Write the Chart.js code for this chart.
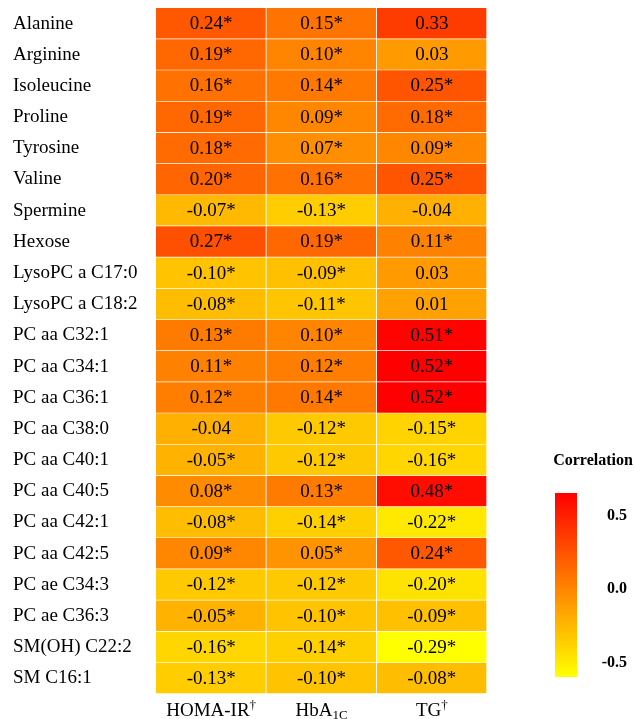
<!DOCTYPE html>
<html>
<head>
<meta charset="utf-8">
<script src="https://cdn.jsdelivr.net/npm/chart.js@4"></script>
<style>
  html, body { margin: 0; padding: 0; background: #fff; }
  #wrap { width: 635px; height: 719px; }
</style>
</head>
<body>
<div id="wrap"><canvas id="heat" width="635" height="719"></canvas></div>
<script>
const metabolites = [
  "Alanine", "Arginine", "Isoleucine", "Proline", "Tyrosine", "Valine",
  "Spermine", "Hexose", "LysoPC a C17:0", "LysoPC a C18:2", "PC aa C32:1",
  "PC aa C34:1", "PC aa C36:1", "PC aa C38:0", "PC aa C40:1", "PC aa C40:5",
  "PC aa C42:1", "PC aa C42:5", "PC ae C34:3", "PC ae C36:3", "SM(OH) C22:2",
  "SM C16:1",
];

const homaIr = [0.24, 0.19, 0.16, 0.19, 0.18, 0.2, -0.07, 0.27, -0.1, -0.08, 0.13,
  0.11, 0.12, -0.04, -0.05, 0.08, -0.08, 0.09, -0.12, -0.05, -0.16, -0.13];
const hba1c = [0.15, 0.1, 0.14, 0.09, 0.07, 0.16, -0.13, 0.19, -0.09, -0.11, 0.1,
  0.12, 0.14, -0.12, -0.12, 0.13, -0.14, 0.05, -0.12, -0.1, -0.14, -0.1];
const tg = [0.33, 0.03, 0.25, 0.18, 0.09, 0.25, -0.04, 0.11, 0.03, 0.01, 0.51,
  0.52, 0.52, -0.15, -0.16, 0.48, -0.22, 0.24, -0.2, -0.09, -0.29, -0.08];

// 1 = marked with * (significant)
const homaSig = [1,1,1,1,1,1,1,1,1,1,1,1,1,0,1,1,1,1,1,1,1,1];
const hbaSig  = [1,1,1,1,1,1,1,1,1,1,1,1,1,1,1,1,1,1,1,1,1,1];
const tgSig   = [0,0,1,1,1,1,0,1,0,0,1,1,1,1,1,1,1,1,1,1,1,1];

// column labels: main text, subscript, superscript
const colMain = ["HOMA-IR", "HbA", "TG"];
const colSub = ["", "1C", ""];
const colSup = ["\u2020", "", "\u2020"];

const legendTitle = "Correlation";
const legendTicks = [0.5, 0.0, -0.5];

const columns = [homaIr, hba1c, tg];
const sigs = [homaSig, hbaSig, tgSig];

const all = columns.flat();
const vMin = Math.min(...all);
const vMax = Math.max(...all);

function colorFor(v) {
  const g = Math.round((255 * (vMax - v)) / (vMax - vMin));
  return `rgb(255,${g},0)`;
}

const serif = "'Liberation Serif', 'Times New Roman', serif";

const datasets = columns.map((col, i) => ({
  label: colMain[i],
  data: col.map(() => 1),
  backgroundColor: col.map(colorFor),
  borderColor: "rgba(255,255,255,0.65)",
  borderWidth: { top: 0, left: 0, right: 1, bottom: 1 },
  borderSkipped: false,
  barPercentage: 1,
  categoryPercentage: 1,
}));

const cellText = {
  id: "cellText",
  afterDatasetsDraw(chart) {
    const ctx = chart.ctx;
    ctx.save();
    ctx.font = `19px ${serif}`;
    ctx.fillStyle = "#000";
    ctx.textAlign = "center";
    ctx.textBaseline = "middle";
    columns.forEach((col, i) => {
      const meta = chart.getDatasetMeta(i);
      meta.data.forEach((bar, j) => {
        const txt = col[j].toFixed(2) + (sigs[i][j] ? "*" : "");
        ctx.fillText(txt, (bar.x + bar.base) / 2, bar.y + 0.5);
      });
    });

    // column labels under the grid
    const baseY = 716;
    columns.forEach((col, i) => {
      const bar = chart.getDatasetMeta(i).data[0];
      const cx = (bar.x + bar.base) / 2;
      ctx.font = `19px ${serif}`;
      const wMain = ctx.measureText(colMain[i]).width;
      ctx.font = `13px ${serif}`;
      const wSub = colSub[i] ? ctx.measureText(colSub[i]).width : 0;
      const wSup = colSup[i] ? ctx.measureText(colSup[i]).width : 0;
      let x = cx - (wMain + wSub + wSup) / 2;
      ctx.textAlign = "left";
      ctx.textBaseline = "alphabetic";
      ctx.font = `19px ${serif}`;
      ctx.fillText(colMain[i], x, baseY);
      x += wMain;
      ctx.font = `13px ${serif}`;
      if (colSub[i]) { ctx.fillText(colSub[i], x, baseY + 3); x += wSub; }
      if (colSup[i]) { ctx.fillText(colSup[i], x, baseY - 7); }
    });
    ctx.restore();
  },
  afterDraw(chart) {
    // colour bar legend
    const ctx = chart.ctx;
    ctx.save();
    const top = 493, bottom = 677, left = 555, w = 22;
    const grad = ctx.createLinearGradient(0, top, 0, bottom);
    grad.addColorStop(0, "rgb(255,0,0)");
    grad.addColorStop(1, "rgb(255,255,0)");
    ctx.fillStyle = grad;
    ctx.fillRect(left, top, w, bottom - top);

    ctx.fillStyle = "#000";
    ctx.font = `bold 16px ${serif}`;
    ctx.textAlign = "center";
    ctx.textBaseline = "middle";
    ctx.fillText(legendTitle, 593, 461);

    ctx.textAlign = "right";
    legendTicks.forEach((t) => {
      ctx.fillText(t.toFixed(1), 627, 589 - t * 147);
    });
    ctx.restore();
  },
};

new Chart(document.getElementById("heat"), {
  type: "bar",
  data: { labels: metabolites, datasets },
  options: {
    indexAxis: "y",
    responsive: false,
    animation: false,
    layout: { padding: { left: 13, top: 8, right: 148, bottom: 25 } },
    plugins: { legend: { display: false }, tooltip: { enabled: false } },
    scales: {
      x: { stacked: true, min: 0, max: 3, display: false },
      y: {
        stacked: true,
        grid: { display: false },
        border: { display: false },
        ticks: {
          crossAlign: "far",
          color: "#000",
          padding: 0,
          font: { family: serif, size: 19 },
        },
        afterFit(scale) {
          scale.width = 143;
          scale.paddingTop = 0;
          scale.paddingBottom = 0;
        },
      },
    },
  },
  plugins: [cellText],
});
</script>
</body>
</html>
